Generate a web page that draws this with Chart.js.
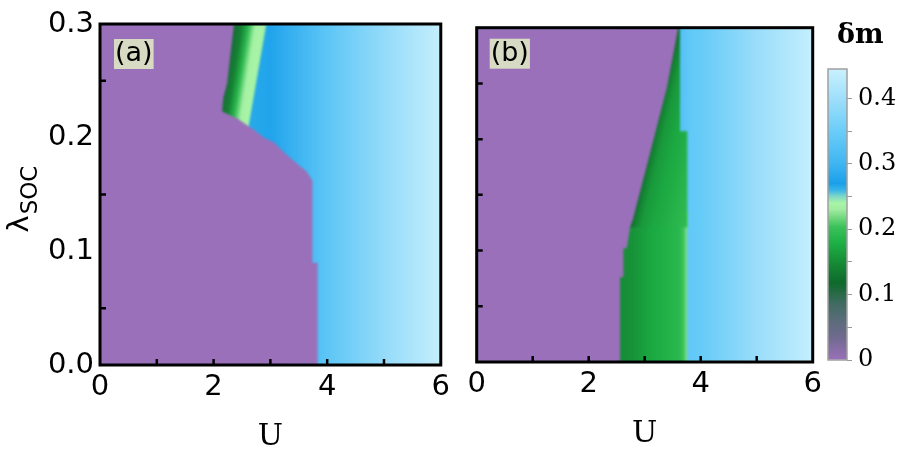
<!DOCTYPE html>
<html>
<head>
<meta charset="utf-8">
<title>δm phase diagram</title>
<script src="https://cdn.jsdelivr.net/npm/chart.js@4.4.1/dist/chart.umd.min.js"></script>
<style>
  html, body { margin: 0; padding: 0; background: #fff; }
  #wrap { position: relative; width: 908px; height: 451px; overflow: hidden; }
  #wrap canvas { position: absolute; top: 0; }
</style>
</head>
<body>
<div id="wrap">
  <canvas id="panelA" width="455" height="451" style="left:0"></canvas>
  <canvas id="panelB" width="380" height="451" style="left:455px"></canvas>
  <canvas id="cbar" width="93" height="451" style="left:815px"></canvas>
</div>
<script>
// ---- values: (U, lambda_SOC) points and (U, dm) colour stops ----

// panel (a)
const aEdge = [[3.83, 0], [3.83, 0.09], [3.74, 0.09], [3.74, 0.162], [3.64, 0.17], [3.45, 0.178],
               [3.24, 0.187], [3.06, 0.196], [2.89, 0.2], [2.68, 0.208], [2.41, 0.217], [2.15, 0.223],
               [2.17, 0.235], [2.24, 0.248], [2.30, 0.275], [2.36, 0.3]];   // purple / ordered boundary
const aStripe = [[2.0, 0.2], [2.55, 0.2], [2.62, 0.211], [2.93, 0.3], [2.0, 0.3]];
const aStripeDm = [[2.36, 0.11], [2.5, 0.14], [2.62, 0.19], [2.74, 0.235], [2.86, 0.24], [2.93, 0.23]];
const aBlueDm = [[2.6, 0.265], [3.0, 0.275], [3.3, 0.29], [4.0, 0.335], [5.0, 0.39], [6.0, 0.44]];

// panel (b)
const bEdge = [[2.56, 0], [2.56, 0.076], [2.62, 0.076], [2.62, 0.102], [2.68, 0.102], [2.74, 0.121],
               [2.79, 0.128], [3.10, 0.188], [3.40, 0.247], [3.57, 0.292], [3.6, 0.3]];
const bGreenLow = [[2.5, 0], [3.76, 0], [3.76, 0.135], [2.5, 0.135]];
const bGreenTop = [[2.5, 0.121], [3.76, 0.121], [3.76, 0.207], [3.63, 0.207], [3.63, 0.3], [2.5, 0.3]];
const bGreenLowDm = [[2.56, 0.148], [2.8, 0.155], [3.1, 0.172], [3.4, 0.182], [3.62, 0.19], [3.7, 0.205], [3.76, 0.225]];
const bGreenTopDm = [[3.6, 0.115], [3.68, 0.14], [3.8, 0.16], [4.0, 0.172], [4.62, 0.195]];
const bBlueDm = [[3.6, 0.32], [3.8, 0.34], [4.0, 0.345], [5.0, 0.395], [6.0, 0.44]];

const fullBox = [[0, 0], [6, 0], [6, 0.3], [0, 0.3]];

// axes
const uTickMarks = [1, 2, 3, 4, 5];
const aLamTickMarks = [0.05, 0.15, 0.25];
const bLamTickMarks = [0.05, 0.1, 0.15, 0.2, 0.25];
const cbarRange = [0, 0.445];

// colour scale of dm
const cmapValues = [0, 0.036, 0.061, 0.087, 0.118, 0.148, 0.179, 0.204, 0.23, 0.24, 0.25, 0.26, 0.27, 0.30, 0.352, 0.40, 0.445];
const cmapColors = ['#9a70ba', '#6f6a8e', '#5a6c7a', '#3f6b60', '#0e6a2a', '#168a36', '#1db044', '#3cc25a',
                    '#a0eca0', '#a8f5a8', '#7fd8c8', '#38b4e8', '#1aa0ea', '#3fb5f2', '#6ccef8', '#9fdffb', '#c9f1fd'];

function hexRgb(h) {
  return [parseInt(h.slice(1, 3), 16), parseInt(h.slice(3, 5), 16), parseInt(h.slice(5, 7), 16)];
}
function dmColor(v) {
  if (v <= cmapValues[0]) return cmapColors[0];
  for (let i = 1; i < cmapValues.length; i++) {
    if (v <= cmapValues[i]) {
      const t = (v - cmapValues[i - 1]) / (cmapValues[i] - cmapValues[i - 1]);
      const c0 = hexRgb(cmapColors[i - 1]), c1 = hexRgb(cmapColors[i]);
      const c = c0.map((c, k) => Math.round(c + (c1[k] - c) * t));
      return 'rgb(' + c.join(',') + ')';
    }
  }
  return cmapColors[cmapColors.length - 1];
}

// gradient whose colour is constant along lines of slope dU/dlambda = skew
function regionFill(chart, stops, skew, lamRef) {
  const xs = chart.scales.x, ys = chart.scales.y;
  if (stops.length === 1 || !chart.chartArea || !xs || !ys) return dmColor(stops[0][1]);
  const u0 = stops[0][0], u1 = stops[stops.length - 1][0];
  const x0 = xs.getPixelForValue(u0), y0 = ys.getPixelForValue(lamRef);
  const x1 = xs.getPixelForValue(u1);
  let tx = xs.getPixelForValue(u0 - skew * 0.1) - x0, ty = ys.getPixelForValue(lamRef - 0.1) - y0;
  const tl = Math.hypot(tx, ty); tx /= tl; ty /= tl;
  let nx = -ty, ny = tx;
  if ((x1 - x0) * nx < 0) { nx = -nx; ny = -ny; }
  const L = (x1 - x0) * nx;
  const g = chart.ctx.createLinearGradient(x0, y0, x0 + nx * L, y0 + ny * L);
  stops.forEach(([u, dm]) => {
    const off = Math.min(1, Math.max(0, (xs.getPixelForValue(u) - x0) * nx / L));
    g.addColorStop(off, dmColor(dm));
  });
  return g;
}

function region(points, stops, skew, order) {
  return {
    type: 'line',
    data: points.map(p => ({x: p[0], y: p[1]})),
    fill: 'shape',
    showLine: true,
    borderWidth: 0,
    borderColor: 'rgba(0,0,0,0)',
    pointRadius: 0,
    pointHoverRadius: 0,
    tension: 0,
    order: order,
    backgroundColor: ctx => regionFill(ctx.chart, stops, skew, 0.3)
  };
}

// soft edges, like the interpolated image in the figure
const softEdges = {
  id: 'softEdges',
  beforeDatasetsDraw(chart) { chart.ctx.save(); chart.ctx.filter = 'blur(1.2px)'; },
  afterDatasetsDraw(chart) { chart.ctx.restore(); }
};

const panelDecor = {
  id: 'panelDecor',
  afterDraw(chart, args, opts) {
    const {ctx, chartArea: a, scales: {x, y}} = chart;
    ctx.save();
    // panel tag
    ctx.font = '27px "DejaVu Sans"';
    const w = ctx.measureText(opts.tag).width + 2;
    const bx = a.left + opts.tagDx, by = a.top + opts.tagDy;
    ctx.fillStyle = '#d8dbc4';
    ctx.fillRect(bx, by, w, 30);
    ctx.fillStyle = '#000';
    ctx.textAlign = 'center';
    ctx.textBaseline = 'middle';
    ctx.fillText(opts.tag, bx + w / 2, by + 15);
    // inward tick marks
    ctx.strokeStyle = '#000';
    ctx.lineWidth = 2.5;
    ctx.beginPath();
    opts.uTicks.forEach(u => {
      const px = x.getPixelForValue(u);
      ctx.moveTo(px, a.bottom); ctx.lineTo(px, a.bottom - 6);
    });
    opts.lamTicks.forEach(l => {
      const py = y.getPixelForValue(l);
      ctx.moveTo(a.left, py); ctx.lineTo(a.left + 6, py);
    });
    ctx.stroke();
    // frame
    ctx.lineWidth = 3;
    ctx.strokeRect(a.left, a.top, a.right - a.left, a.bottom - a.top);
    // axis titles
    ctx.font = '30px "DejaVu Serif"';
    ctx.textBaseline = 'alphabetic';
    ctx.fillText('U', (a.left + a.right) / 2, a.bottom + 80);
    if (opts.lambdaTitle) {
      ctx.translate(28, (a.top + a.bottom) / 2 + 4);
      ctx.rotate(-Math.PI / 2);
      ctx.textAlign = 'left';
      ctx.font = '29px "DejaVu Sans"';
      ctx.fillText('λ', -34, 0);
      const lw = ctx.measureText('λ').width;
      ctx.font = '23px "DejaVu Sans"';
      ctx.fillText('SOC', -34 + lw + 1, 9);
    }
    ctx.restore();
  }
};

function makePanel(id, datasets, cfg) {
  return new Chart(document.getElementById(id), {
    type: 'scatter',
    data: {datasets: datasets},
    plugins: [softEdges, panelDecor],
    options: {
      responsive: false,
      animation: false,
      events: [],
      layout: {padding: cfg.padding},
      plugins: {
        legend: {display: false},
        tooltip: {enabled: false},
        panelDecor: cfg.decor
      },
      scales: {
        x: {
          type: 'linear', min: 0, max: 6,
          grid: {display: false, drawTicks: false},
          border: {display: false},
          ticks: {stepSize: 2, padding: 5, color: '#000', font: {family: 'DejaVu Sans', size: 29}},
          afterFit: s => { s.height = cfg.xHeight; }
        },
        y: {
          type: 'linear', min: 0, max: 0.3,
          display: cfg.yLabels,
          grid: {display: false, drawTicks: false},
          border: {display: false},
          ticks: {stepSize: 0.1, padding: 6, color: '#000', font: {family: 'DejaVu Sans', size: 29},
                  callback: v => v.toFixed(1)},
          afterFit: s => { s.width = cfg.yLabels ? 100 : 0; }
        }
      }
    }
  });
}

makePanel('panelA', [
  region([[0, 0], ...aEdge, [0, 0.3]], [[0, 0]], 0, 1),
  region(aStripe, aStripeDm, 3.2, 2),
  region(fullBox, aBlueDm, 0, 3)
], {
  padding: {left: 0, top: 24, right: 12, bottom: 0},
  xHeight: 86,
  yLabels: true,
  decor: {tag: '(a)', tagDx: 14, tagDy: 15, uTicks: uTickMarks, lamTicks: aLamTickMarks, lambdaTitle: true}
});

makePanel('panelB', [
  region([[0, 0], ...bEdge, [0, 0.3]], [[0, 0]], 0, 1),
  region(bGreenTop, bGreenTopDm, 4.8, 2),
  region(bGreenLow, bGreenLowDm, 0, 3),
  region(fullBox, bBlueDm, 0, 4)
], {
  padding: {left: 21.7, top: 27.7, right: 22.3, bottom: 0},
  xHeight: 89,
  yLabels: false,
  decor: {tag: '(b)', tagDx: 13, tagDy: 11, uTicks: uTickMarks, lamTicks: bLamTickMarks, lambdaTitle: false}
});

// colour bar
const cbarFrame = {
  id: 'cbarFrame',
  afterDraw(chart) {
    const {ctx, chartArea: a} = chart;
    ctx.save();
    ctx.strokeStyle = '#a0a0a0';
    ctx.lineWidth = 1.5;
    ctx.strokeRect(a.left, a.top, a.right - a.left, a.bottom - a.top);
    ctx.fillStyle = '#000';
    ctx.font = 'bold 27px "DejaVu Serif"';
    ctx.textAlign = 'left';
    ctx.textBaseline = 'alphabetic';
    ctx.fillText('δm', a.left + 9, 43);
    ctx.restore();
  }
};

new Chart(document.getElementById('cbar'), {
  type: 'bar',
  data: {
    labels: [''],
    datasets: [{
      data: [cbarRange],
      barPercentage: 1,
      categoryPercentage: 1,
      borderWidth: 0,
      backgroundColor: ctx => {
        const chart = ctx.chart, ys = chart.scales.y;
        if (!chart.chartArea || !ys) return cmapColors[0];
        const g = chart.ctx.createLinearGradient(0, ys.getPixelForValue(cbarRange[0]), 0, ys.getPixelForValue(cbarRange[1]));
        cmapValues.forEach((v, i) => g.addColorStop(v / cbarRange[1], cmapColors[i]));
        return g;
      }
    }]
  },
  plugins: [cbarFrame],
  options: {
    responsive: false,
    animation: false,
    events: [],
    layout: {padding: {left: 13, top: 69, right: 0, bottom: 91}},
    plugins: {legend: {display: false}, tooltip: {enabled: false}},
    scales: {
      x: {display: false},
      y: {
        position: 'right', min: cbarRange[0], max: cbarRange[1],
        grid: {drawOnChartArea: false, tickLength: 5, color: '#9a9a9a'},
        border: {display: false},
        ticks: {
          stepSize: 0.05, padding: 6, color: '#000',
          font: {family: 'DejaVu Serif', size: 24},
          callback: v => {
            const r = Math.round(v * 100);
            if (r % 10 !== 0) return '';
            return r === 0 ? '0' : v.toFixed(1);
          }
        },
        afterBuildTicks: s => { s.ticks = s.ticks.filter(t => t.value <= 0.4001); },
        afterFit: s => { s.width = 61; }
      }
    }
  }
});
</script>
</body>
</html>
